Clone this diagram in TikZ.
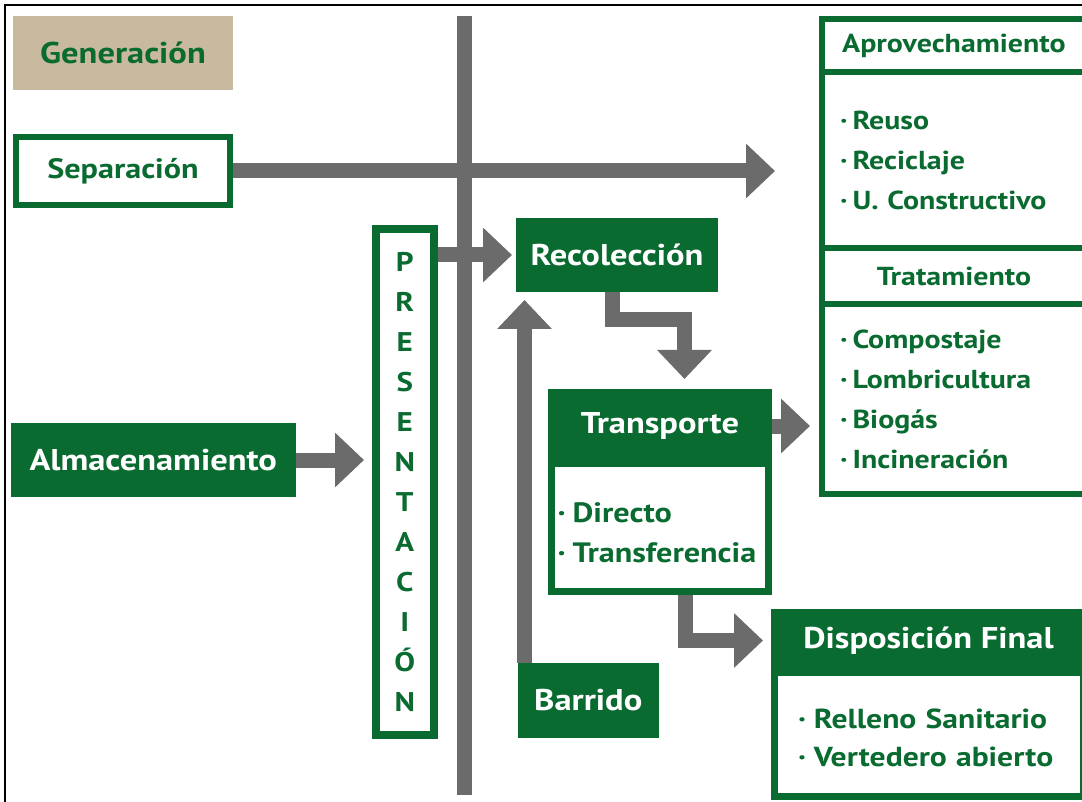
\documentclass[tikz,border=0pt]{standalone}
\usepackage{fontspec}
\setmainfont{PT Sans}[FakeStretch=1.15]
\usetikzlibrary{positioning,arrows.meta,backgrounds}
\definecolor{verde}{HTML}{0A6B31}
\definecolor{gris}{HTML}{6B6B6B}
\definecolor{arena}{HTML}{C9B99F}
\newcommand{\vineta}[1][5pt]{·\hspace{#1}}

\tikzset{
	caja/.style={draw=verde, line width=6pt, fill=white, text=verde, outer sep=0pt, inner sep=0pt,
		font=\bfseries\fontsize{26}{32}\selectfont},
	bloque/.style={fill=verde, text=white, outer sep=0pt, inner sep=0pt,
		font=\bfseries\fontsize{30}{34}\selectfont},
	lista/.style={caja, align=left, font=\bfseries\fontsize{26}{40}\selectfont},
	flecha/.style={gris, line width=15pt, line join=miter, -{Triangle[length=29pt,width=53pt]}},
	barra/.style={gris, line width=15pt}
}

\begin{document}
\begin{tikzpicture}[x=1pt,y=-1pt]
	\useasboundingbox (0,0) rectangle (1082,802);
	\draw [line width=1.5pt] (5,810) -- (5,5) -- (1090,5);

	\node [fill=arena, text=verde, outer sep=0pt, inner sep=0pt, minimum width=220pt, minimum height=74pt,
		font=\bfseries\fontsize{30}{34}\selectfont] (gen) at (123,53) {Generación\hspace{12pt}};
	\node [caja, minimum width=214pt, minimum height=68pt, font=\bfseries\fontsize{28}{32}\selectfont] (sep)
		at (123,171) {Separación};
	\node [bloque, minimum width=284.5pt, minimum height=74pt] (alm) at (153.25,460) {Almacenamiento};
	\node [caja, line width=8pt, minimum width=57.5pt, minimum height=506pt, align=center,
		font=\bfseries\fontsize{27}{40}\selectfont] (pres) at (404.75,482) {P\\R\\E\\S\\E\\N\\T\\A\\C\\I\\Ó\\N};

	\node [bloque, minimum width=202pt, minimum height=74pt] (rec) at (617,255) {Recolección};
	\node [bloque, minimum width=140.5pt, minimum height=75pt] (barr) at (588.25,700.5) {Barrido};
	\node [bloque, minimum width=224pt, minimum height=74pt] (trans) at (660,426) {Transporte};
	\node [lista, line width=7pt, below=0pt of trans, text width=205pt, inner xsep=6pt, minimum height=128.5pt,
		font=\bfseries\fontsize{28}{40}\selectfont] (transl) {\rule{0pt}{31pt}\vineta[7pt]Directo\\\vineta[7pt]Transferencia};

	\node [caja, minimum width=264pt, minimum height=53.5pt] (apro) at (954,45.75) {Aprovechamiento};
	\node [lista, below=0pt of apro, text width=228pt, inner xsep=18pt, minimum height=176pt] (aprol)
		{\vineta Reuso\\\vineta Reciclaje\\\vineta U. Constructivo};
	\node [caja, below=0pt of aprol, minimum width=264pt, minimum height=55.5pt] (trat) {Tratamiento};
	\node [lista, below=0pt of trat, text width=228pt, inner xsep=18pt, minimum height=190pt] (tratl)
		{\vineta Compostaje\\\vineta Lombricultura\\\vineta Biogás\\\vineta Incineración};

	\node [bloque, minimum width=315pt, minimum height=63pt] (disp) at (928.5,640.5) {Disposición Final};
	\node [lista, line width=7pt, below=0pt of disp, text width=261pt, inner xsep=24pt, minimum height=124pt,
		font=\bfseries\fontsize{27.5}{38}\selectfont] (displ) {\rule{0pt}{27pt}\vineta[8pt]Relleno Sanitario\\\vineta[8pt]Vertedero abierto};

	\begin{scope}[on background layer]
	\coordinate (ejeA) at (464.5,16);
	\coordinate (ejeB) at (464.5,795);
	\draw [barra] (ejeA) -- (ejeB);
	\draw [flecha, shorten >=47pt] (sep.east) -- (sep.east -| aprol.west);
	\draw [flecha, shorten >=4pt] (pres.east |- rec.west) -- (rec.west);
	\draw [flecha, shorten >=12pt] (alm.east) -- (alm.east -| pres.west);
	\draw [flecha, shorten >=8pt] ([xshift=6.5pt]barr.north west) -- ([xshift=6.5pt]barr.north west |- rec.south);
	\draw [flecha, shorten >=10pt] ([xshift=-5pt]rec.south) |- ++(72.5,28) -- ([xshift=24.5pt]trans.north);
	\draw [flecha, shorten >=12pt] (trans.east) -- (trans.east -| tratl.west);
	\draw [flecha, shorten >=8pt] ([xshift=25.5pt]transl.south) |- (disp.west);
	\end{scope}
\end{tikzpicture}
\end{document}
